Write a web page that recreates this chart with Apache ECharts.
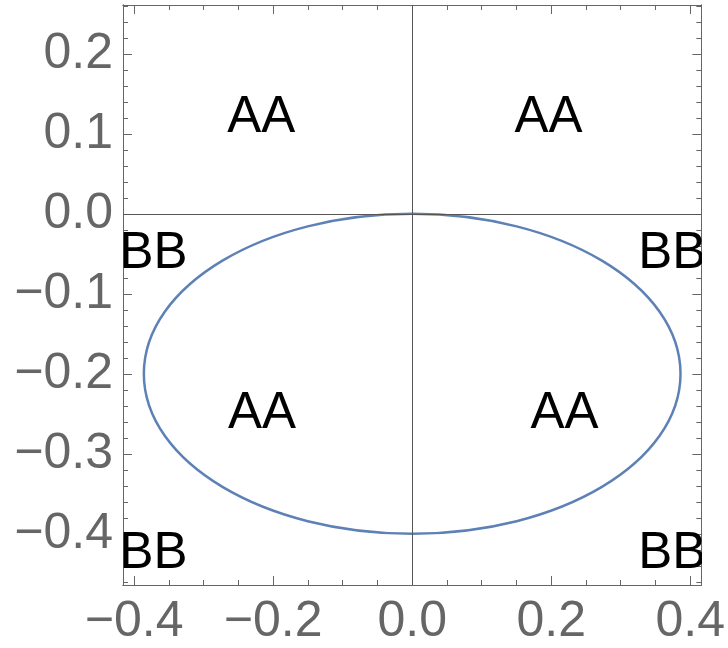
<!DOCTYPE html>
<html>
<head>
<meta charset="utf-8">
<script src="https://cdn.jsdelivr.net/npm/echarts@6/dist/echarts.min.js"></script>
<style>
  html, body { margin: 0; padding: 0; background: #fff; }
  #chart { width: 728px; height: 648px; }
</style>
</head>
<body>
<div id="chart"></div>
<script>
// axis ranges
const xMin = -0.416, xMax = 0.416
const yMin = -0.464, yMax = 0.261

// tick labels / tick positions
const xLabelValues = [-0.4, -0.2, 0, 0.2, 0.4]
const xMinorTicks = [-0.4, -0.35, -0.3, -0.25, -0.2, -0.15, -0.1, -0.05, 0, 0.05, 0.1, 0.15, 0.2, 0.25, 0.3, 0.35, 0.4]
const yLabelValues = [-0.4, -0.3, -0.2, -0.1, 0, 0.1, 0.2]
const yMinorTicks = [-0.46, -0.44, -0.42, -0.4, -0.38, -0.36, -0.34, -0.32, -0.3, -0.28, -0.26, -0.24, -0.22, -0.2,
  -0.18, -0.16, -0.14, -0.12, -0.1, -0.08, -0.06, -0.04, -0.02, 0, 0.02, 0.04, 0.06, 0.08, 0.1,
  0.12, 0.14, 0.16, 0.18, 0.2, 0.22, 0.24, 0.26]

// ellipse: center and radii
const ellipseCenter = [0, -0.2]
const ellipseRadii = [0.386, 0.2]

// text labels
const textLabels = ['AA', 'AA', 'AA', 'AA', 'BB', 'BB', 'BB', 'BB']
const textX = [-0.217, 0.196, -0.216, 0.219, -0.372, 0.374, -0.372, 0.374]
const textY = [0.12, 0.12, -0.25, -0.25, -0.05, -0.05, -0.425, -0.425]

const frameColor = '#666'
const fmt = v => (v < -1e-9 ? '\u2212' : '') + Math.abs(v).toFixed(1)

function xAxisCfg (position, ticks, len, showLabel) {
  return {
    type: 'value', position: position, min: xMin, max: xMax,
    splitLine: { show: false },
    axisLine: { show: true, onZero: false, lineStyle: { color: frameColor, width: 1 } },
    axisTick: { show: true, inside: true, length: len, customValues: ticks, lineStyle: { color: frameColor } },
    axisLabel: {
      show: showLabel, customValues: xLabelValues, formatter: fmt, margin: 12,
      color: '#666', fontSize: 50, fontFamily: 'Liberation Sans'
    }
  }
}
function yAxisCfg (position, ticks, len, showLabel) {
  return {
    type: 'value', position: position, min: yMin, max: yMax,
    splitLine: { show: false },
    axisLine: { show: true, onZero: false, lineStyle: { color: frameColor, width: 1 } },
    axisTick: { show: true, inside: true, length: len, customValues: ticks, lineStyle: { color: frameColor } },
    axisLabel: {
      show: showLabel, customValues: yLabelValues, formatter: fmt, margin: 10,
      color: '#666', fontSize: 50, fontFamily: 'Liberation Sans'
    }
  }
}

const chart = echarts.init(document.getElementById('chart'))
chart.setOption({
  animation: false,
  backgroundColor: '#fff',
  grid: { left: 123, top: 5, width: 584, height: 580, containLabel: false },
  xAxis: [
    xAxisCfg('bottom', xLabelValues, 9, true),
    xAxisCfg('bottom', xMinorTicks, 5, false),
    xAxisCfg('top', xLabelValues, 9, false),
    xAxisCfg('top', xMinorTicks, 5, false)
  ],
  yAxis: [
    yAxisCfg('left', yLabelValues, 9, true),
    yAxisCfg('left', yMinorTicks, 5, false),
    yAxisCfg('right', yLabelValues, 9, false),
    yAxisCfg('right', yMinorTicks, 5, false)
  ],
  series: [
    {
      type: 'custom', // ellipse drawn through the axis scales
      xAxisIndex: 0, yAxisIndex: 0,
      silent: true, z: 3,
      data: [[ellipseCenter[0], ellipseCenter[1], ellipseRadii[0], ellipseRadii[1]]],
      renderItem: function (params, api) {
        const c = api.coord([api.value(0), api.value(1)])
        const s = api.size([api.value(2), api.value(3)])
        return {
          type: 'ellipse',
          shape: { cx: c[0], cy: c[1], rx: s[0], ry: s[1] },
          style: { fill: 'none', stroke: '#5E81B5', lineWidth: 2.5 }
        }
      },
      markLine: {
        silent: true, symbol: 'none', animation: false,
        label: { show: false },
        lineStyle: { color: '#555', width: 1, type: 'solid' },
        data: [{ xAxis: 0 }, { yAxis: 0 }]
      }
    },
    {
      type: 'custom', // text annotations
      xAxisIndex: 0, yAxisIndex: 0,
      silent: true, clip: true, z: 4,
      data: textLabels.map((t, i) => [textX[i], textY[i], t]),
      renderItem: function (params, api) {
        const p = api.coord([api.value(0), api.value(1)])
        return {
          type: 'text',
          x: p[0], y: p[1],
          style: {
            text: textLabels[params.dataIndex],
            fill: '#000',
            font: '51px "Liberation Sans"',
            align: 'center', verticalAlign: 'middle'
          }
        }
      }
    }
  ]
})
</script>
</body>
</html>
